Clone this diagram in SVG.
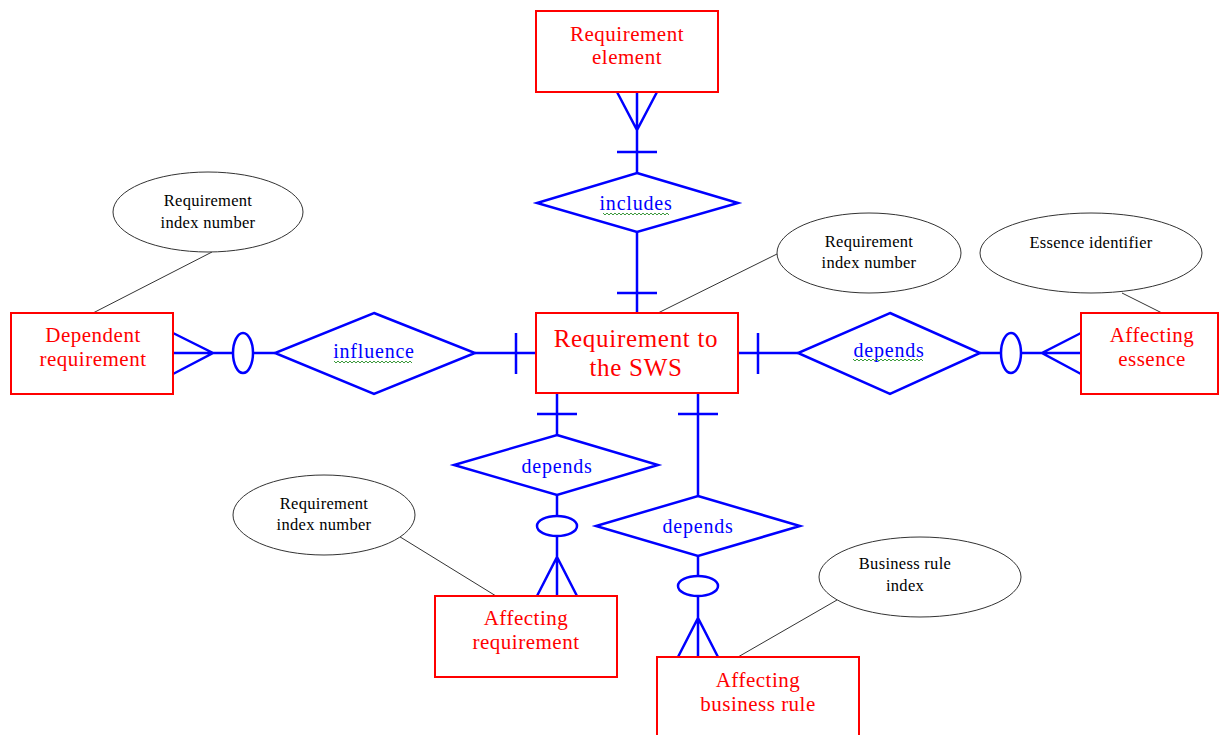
<svg xmlns="http://www.w3.org/2000/svg" width="1219" height="735" viewBox="0 0 1219 735">
<style>
.ent{fill:#fff;stroke:#ff0000;stroke-width:2}
.et{font-family:"Liberation Serif","Times New Roman",serif;font-size:21px;letter-spacing:0.5px;fill:#ff0000;text-anchor:middle}
.big{font-size:25px;letter-spacing:0.7px}
.rel{fill:#fff;stroke:#0000ff;stroke-width:2.5}
.rt{font-family:"Liberation Serif","Times New Roman",serif;font-size:20px;letter-spacing:0.8px;fill:#0000ff;text-anchor:middle}
.ln{fill:none;stroke:#0000ff;stroke-width:2.5}
.att{fill:#fff;stroke:#333;stroke-width:1}
.at{font-family:"Liberation Serif","Times New Roman",serif;font-size:16.5px;letter-spacing:0.3px;fill:#000;text-anchor:middle}
.al{stroke:#333;stroke-width:1}
.sq{fill:none;stroke:#3c9a3c;stroke-width:1}
</style>
<rect width="1219" height="735" fill="#fff"/>
<g id="connectors">
<line class="al" x1="212" y1="252" x2="93" y2="313"/>
<line class="al" x1="777" y1="254" x2="658" y2="313"/>
<line class="al" x1="1122" y1="293" x2="1162" y2="313"/>
<line class="al" x1="397" y1="535" x2="496" y2="596"/>
<line class="al" x1="837" y1="600" x2="738" y2="657"/>
<path class="ln" d="M637 92V173M617 92L637 130L657 92M617 152H657M637 232V313M617 293H657"/>
<path class="ln" d="M173 353H233M173 333L213 353L173 374M253 353H275M475 353H536M516 333V374"/>
<ellipse class="ln" cx="243" cy="353" rx="10" ry="20"/>
<path class="ln" d="M738 353H798M758 333V374M980 353H1001M1021 353H1081M1081 333L1042 353L1081 374"/>
<ellipse class="ln" cx="1011" cy="353" rx="10" ry="20"/>
<path class="ln" d="M557 394V435M537 414H577M557 495V516M557 536V596M537 596L557 557L577 596"/>
<ellipse class="ln" cx="557" cy="526" rx="20" ry="10"/>
<path class="ln" d="M698 394V496M678 414H718M698 556V576M698 596V657M678 657L698 618L718 657"/>
<ellipse class="ln" cx="698" cy="586" rx="20" ry="10"/>
</g>
<g id="req-element">
<rect class="ent" x="536" y="11" width="182" height="81"/>
<text class="et" x="627" y="41">Requirement</text>
<text class="et" x="627" y="64">element</text>
</g>
<g id="includes">
<polygon class="rel" points="637,173 738,203 637,232 537,203"/>
<text class="rt" x="636" y="210">includes</text>
<path class="sq" d="M603 213l2 2l2-2l2 2l2-2l2 2l2-2l2 2l2-2l2 2l2-2l2 2l2-2l2 2l2-2l2 2l2-2l2 2l2-2l2 2l2-2l2 2l2-2l2 2l2-2l2 2l2-2l2 2l2-2l2 2l2-2l2 2l2-2l2 2"/>
</g>
<g id="req-sws">
<rect class="ent" x="536" y="313" width="202" height="80"/>
<text class="et big" x="636" y="347">Requirement to</text>
<text class="et big" x="636" y="376">the SWS</text>
</g>
<g id="dependent-req">
<rect class="ent" x="11" y="313" width="162" height="81"/>
<text class="et" x="93" y="342">Dependent</text>
<text class="et" x="93" y="366">requirement</text>
</g>
<g id="influence">
<polygon class="rel" points="374,313 475,353 374,394 275,353"/>
<text class="rt" x="374" y="358">influence</text>
<path class="sq" d="M334 361l2 2l2-2l2 2l2-2l2 2l2-2l2 2l2-2l2 2l2-2l2 2l2-2l2 2l2-2l2 2l2-2l2 2l2-2l2 2l2-2l2 2l2-2l2 2l2-2l2 2l2-2l2 2l2-2l2 2l2-2l2 2l2-2l2 2l2-2l2 2l2-2l2 2l2-2l2 2"/>
</g>
<g id="depends-right">
<polygon class="rel" points="890,313 980,353 890,394 798,353"/>
<text class="rt" x="889" y="357">depends</text>
<path class="sq" d="M853 359l2 2l2-2l2 2l2-2l2 2l2-2l2 2l2-2l2 2l2-2l2 2l2-2l2 2l2-2l2 2l2-2l2 2l2-2l2 2l2-2l2 2l2-2l2 2l2-2l2 2l2-2l2 2l2-2l2 2l2-2l2 2l2-2l2 2l2-2l2 2"/>
</g>
<g id="affecting-essence">
<rect class="ent" x="1081" y="313" width="137" height="81"/>
<text class="et" x="1152" y="342">Affecting</text>
<text class="et" x="1152" y="366">essence</text>
</g>
<g id="depends-bottom1">
<polygon class="rel" points="557,435 658,465 557,495 454,465"/>
<text class="rt" x="557" y="473">depends</text>
</g>
<g id="affecting-req">
<rect class="ent" x="435" y="596" width="182" height="81"/>
<text class="et" x="526" y="625">Affecting</text>
<text class="et" x="526" y="649">requirement</text>
</g>
<g id="depends-bottom2">
<polygon class="rel" points="698,496 800,526 698,556 596,526"/>
<text class="rt" x="698" y="533">depends</text>
</g>
<g id="affecting-br">
<rect class="ent" x="657" y="657" width="202" height="82"/>
<text class="et" x="758" y="687">Affecting</text>
<text class="et" x="758" y="711">business rule</text>
</g>
<g id="attr-dep-index">
<ellipse class="att" cx="208" cy="212" rx="95" ry="40"/>
<text class="at" x="208" y="206">Requirement</text>
<text class="at" x="208" y="228">index number</text>
</g>
<g id="attr-sws-index">
<ellipse class="att" cx="869" cy="253" rx="92" ry="40"/>
<text class="at" x="869" y="247">Requirement</text>
<text class="at" x="869" y="268">index number</text>
</g>
<g id="attr-essence">
<ellipse class="att" cx="1091" cy="253" rx="111" ry="40"/>
<text class="at" x="1091" y="248">Essence identifier</text>
</g>
<g id="attr-aff-index">
<ellipse class="att" cx="324" cy="515" rx="91" ry="40"/>
<text class="at" x="324" y="509">Requirement</text>
<text class="at" x="324" y="530">index number</text>
</g>
<g id="attr-br-index">
<ellipse class="att" cx="920" cy="577" rx="101" ry="40"/>
<text class="at" x="905" y="569">Business rule</text>
<text class="at" x="905" y="591">index</text>
</g>
</svg>
